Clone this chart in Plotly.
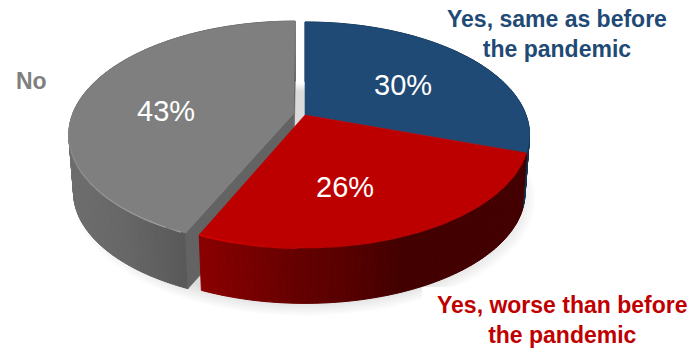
import numpy as np
import plotly.graph_objects as go

# Survey shares, clockwise from twelve o'clock
categories = ["Yes, same as before<br>the pandemic", "Yes, worse than before<br>the pandemic", "No"]
values = [30, 26, 43]
value_labels = ["30%", "26%", "43%"]

TOP_COLORS = ["#1F4A75", "#BC0000", "#7F7F7F"]
TEXT_COLORS = ["#1F4A75", "#C00000", "#7F7F7F"]

# Perspective disc: pixel-space camera parameters
CX, CY = 305.0, 115.0
SCALE_X, SCALE_Y = 221.0, 109.5
PERSP = 0.177
DROP = 58.0
BOTTOM_SCALE = 0.98
EXPLODE = (-0.053, 0.011)


def project(u, v, bottom=False, offset=(0.0, 0.0)):
    u = np.asarray(u, dtype=float) + offset[0]
    v = np.asarray(v, dtype=float) + offset[1]
    d = 1 + PERSP * v
    s = BOTTOM_SCALE if bottom else 1.0
    return CX + s * SCALE_X * u / d, CY + (DROP if bottom else 0.0) - s * SCALE_Y * v / d


def lerp_color(stops, x):
    xs = [p[0] for p in stops]
    rgb = [np.interp(x, xs, [p[1][i] for p in stops]) for i in range(3)]
    return "rgb({:.0f},{:.0f},{:.0f})".format(*rgb)


def polygon(x, y, color, width=0.6):
    return go.Scatter(
        x=np.asarray(x), y=np.asarray(y), mode="lines", fill="toself", fillcolor=color,
        line=dict(color=color, width=width), hoverinfo="skip", showlegend=False,
    )


def wall_strips(a0, a1, stops, offset=(0.0, 0.0)):
    # Outer wall of one slice as narrow quads so its shading can vary across x
    edges = np.linspace(a0, a1, max(int(abs(a1 - a0) / np.radians(1.0)), 2) + 1)
    # Paint from the back of the disc to the front
    order = np.argsort(-np.cos((edges[:-1] + edges[1:]) / 2))
    out = []
    for i in order:
        t = np.array([edges[i], edges[i + 1]])
        xt, yt = project(np.sin(t), np.cos(t), False, offset)
        xb, yb = project(np.sin(t), np.cos(t), True, offset)
        color = lerp_color(stops, (xt.mean() + xb.mean()) / 2)
        out.append(polygon([xt[0], xt[1], xb[1], xb[0], xt[0]], [yt[0], yt[1], yb[1], yb[0], yt[0]], color, 1.0))
    return out


def top_face(a0, a1, color, offset=(0.0, 0.0)):
    t = np.linspace(a0, a1, 160)
    x, y = project(np.r_[0, np.sin(t), 0], np.r_[0, np.cos(t), 0], False, offset)
    return polygon(x, y, color)


def rim(a0, a1, base, peak, offset=(0.0, 0.0)):
    # Fading highlight along the bevel of the front edge
    edges = np.linspace(a0, a1, 25)
    out = []
    for i in range(len(edges) - 1):
        f = i / (len(edges) - 2)
        c = tuple(base[k] + (peak[k] - base[k]) * f for k in range(3))
        t = edges[i:i + 2]
        x, y = project(np.sin(t), np.cos(t), False, offset)
        out.append(go.Scatter(x=x, y=y + 0.4, mode="lines", hoverinfo="skip", showlegend=False,
                              line=dict(color="rgb({:.0f},{:.0f},{:.0f})".format(*c), width=1.3)))
    return out


fractions = np.array(values, dtype=float) / sum(values)
bounds = np.r_[0, np.cumsum(fractions)] * 2 * np.pi

RED_WALL = [(197, (140, 0, 0)), (250, (120, 0, 0)), (300, (100, 0, 0)), (345, (88, 0, 0)), (400, (67, 0, 0)), (530, (67, 0, 0))]
GREY_WALL = [(70, (110, 110, 110)), (130, (102, 102, 102)), (190, (88, 88, 88))]
BLUE_WALL = [(500, (20, 50, 80)), (535, (20, 50, 80))]

traces = []

# Soft floor shadow, stacked translucent discs
disc = np.linspace(0, 2 * np.pi, 200)
for grow in np.linspace(1.045, 0.95, 9):
    sx, sy = project(np.sin(disc) * grow, np.cos(disc) * grow, True)
    traces.append(go.Scatter(x=sx, y=sy + 5, mode="lines", fill="toself", fillcolor="rgba(0,0,0,0.016)",
                             line=dict(width=0), hoverinfo="skip", showlegend=False))

# Opaque label backing that cuts into the shadow
traces.append(polygon([422, 694, 694, 422, 422], [287, 287, 349, 349, 287], "#FFFFFF", 0))

# Exploded grey slice: outer wall, inner walls, top
traces += wall_strips(bounds[2], bounds[3], GREY_WALL, EXPLODE)
for a in (bounds[2], bounds[3]):
    x0, y0 = project(0, 0, False, EXPLODE)
    x1, y1 = project(np.sin(a), np.cos(a), False, EXPLODE)
    x2, y2 = project(np.sin(a), np.cos(a), True, EXPLODE)
    x3, y3 = project(0, 0, True, EXPLODE)
    traces.append(polygon([x0, x1, x2, x3, x0], [y0, y1, y2, y3, y0], "#636363"))
traces.append(top_face(bounds[2], bounds[3], TOP_COLORS[2], EXPLODE))
traces += rim(bounds[2] + np.radians(5), bounds[2] + 0.02, (127, 127, 127), (175, 175, 175), EXPLODE)
traces += rim(bounds[2] + np.radians(70), bounds[2] + np.radians(5), (127, 127, 127), (160, 160, 160), EXPLODE)

# Blue and red slices
traces += wall_strips(bounds[0], bounds[1], BLUE_WALL)
traces += wall_strips(bounds[1], bounds[2], RED_WALL)
traces.append(top_face(bounds[0], bounds[1], TOP_COLORS[0]))
traces.append(top_face(bounds[1], bounds[2], TOP_COLORS[1]))
traces += rim(bounds[2] - np.radians(22), bounds[2], (188, 0, 0), (232, 0, 0))

fig = go.Figure(traces)

annotations = []
for text, color, x, y in zip(categories, TEXT_COLORS, (557, 562, 31), (34, 320, 81)):
    annotations.append(dict(x=x, y=y, text=text, showarrow=False, xref="x", yref="y", align="center",
                            font=dict(family="Liberation Sans", size=23, color=color, weight="bold")))
for text, x, y in zip(value_labels, (403, 345, 166), (85, 187, 111)):
    annotations.append(dict(x=x, y=y, text=text, showarrow=False, xref="x", yref="y",
                            font=dict(family="Liberation Sans", size=29, color="#FFFFFF")))

fig.update_layout(
    width=694, height=349, margin=dict(l=0, r=0, t=0, b=0),
    paper_bgcolor="#FFFFFF", plot_bgcolor="#FFFFFF", showlegend=False,
    xaxis=dict(range=[0, 694], visible=False, fixedrange=True),
    yaxis=dict(range=[349, 0], visible=False, fixedrange=True),
    annotations=annotations,
)

fig.write_html("out.html", config=dict(displayModeBar=False))
